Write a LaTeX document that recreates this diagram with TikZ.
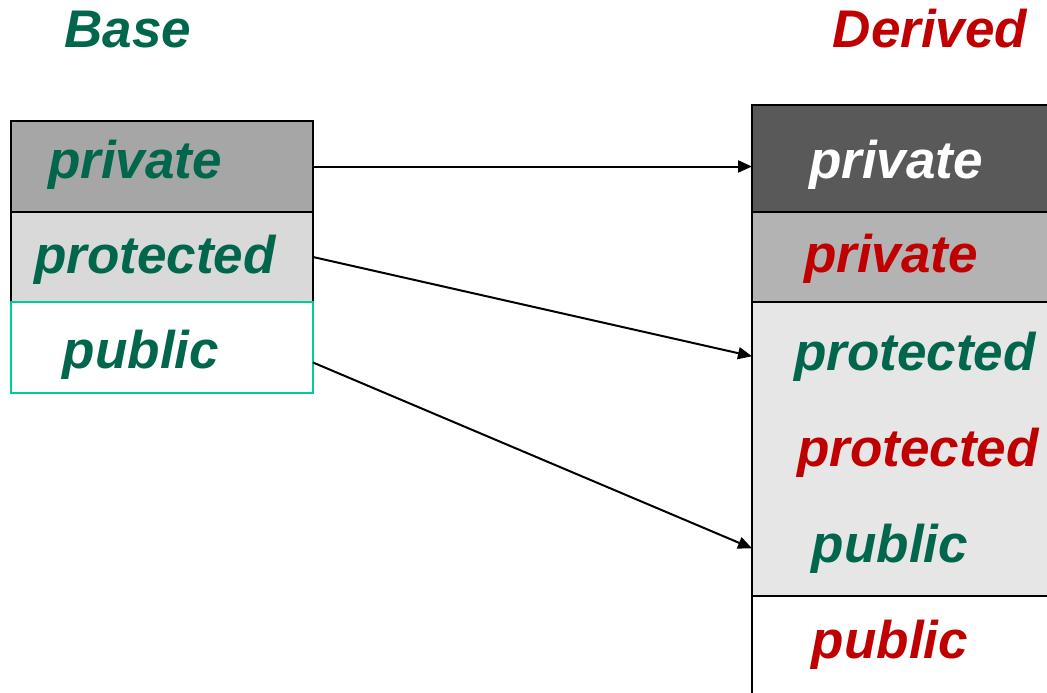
\documentclass[tikz,border=0pt]{standalone}
\usepackage{fontspec}
\setmainfont{Liberation Sans}
\usepackage{tikz}
\usetikzlibrary{arrows.meta, positioning}
\usepackage{xcolor}
\definecolor{bgreen}{RGB}{0,102,76}
\definecolor{dred}{RGB}{192,0,0}
\definecolor{publine}{RGB}{0,204,153}
\definecolor{gpriv}{RGB}{166,166,166}
\definecolor{gprot}{RGB}{217,217,217}
\definecolor{gdark}{RGB}{89,89,89}
\definecolor{gmid}{RGB}{179,179,179}
\definecolor{glight}{RGB}{230,230,230}
\newcommand\bigfont{\fontsize{53}{60}\selectfont\bfseries\itshape}

\begin{document}
\begin{tikzpicture}[
  x=1pt, y=-1pt,
  node distance=0pt,
  row/.style  = {rectangle, draw=black, line width=2pt, minimum width=302pt,
                 inner sep=0pt, outer sep=0pt},
  drow/.style = {rectangle, draw=black, line width=2pt, minimum width=310pt,
                 inner sep=0pt, outer sep=0pt},
  lbl/.style  = {font=\bigfont, anchor=base, inner sep=0pt},
  arr/.style  = {-{Triangle[length=14pt, width=12pt]}, black, line width=2pt}
]
\clip (0,0) rectangle (1047,693);

% base class
\node[row, fill=gpriv, minimum height=91pt, anchor=north west] (bpriv) at (11,121) {};
\node[row, fill=gprot, minimum height=90pt, below=of bpriv] (bprot) {};
\node[row, fill=white, draw=publine, minimum height=91pt, below=of bprot] (bpub) {};

% derived class
\node[drow, fill=gdark, minimum height=107pt, anchor=north west] (dpriv) at (752,105) {};
\node[drow, fill=gmid, minimum height=90pt, below=of dpriv] (dpriv2) {};
\node[drow, fill=glight, minimum height=294pt, below=of dpriv2] (dprot) {};
\node[drow, fill=white, minimum height=120pt, below=of dprot] (dpub) {};

% labels
\node[lbl, text=bgreen] (tbase) at (128,48) {Base};
\node[lbl, text=dred]   (tder)  at (930,48) {Derived};

\node[lbl, text=bgreen] (tbpriv) at (135,178) {private};
\node[lbl, text=bgreen] (tbprot) at (155,273) {protected};
\node[lbl, text=bgreen] (tbpub)  at (141,368) {public};

\node[lbl, text=white]  (tdwpriv) at (896,178) {private};
\node[lbl, text=dred]   (tdrpriv) at (891,272) {private};
\node[lbl, text=bgreen] (tdgprot) at (915,370) {protected};
\node[lbl, text=dred]   (tdrprot) at (918,466) {protected};
\node[lbl, text=bgreen] (tdgpub)  at (890,562) {public};
\node[lbl, text=dred]   (tdrpub)  at (890,658) {public};

\draw[arr] (bpriv.east) -- (bpriv.east -| dpriv.west);
\draw[arr] (bprot.east) -- (tdgprot -| dprot.west);
\draw[arr] ([yshift=-15pt]bpub.east) -- (tdgpub -| dprot.west);
\end{tikzpicture}
\end{document}
